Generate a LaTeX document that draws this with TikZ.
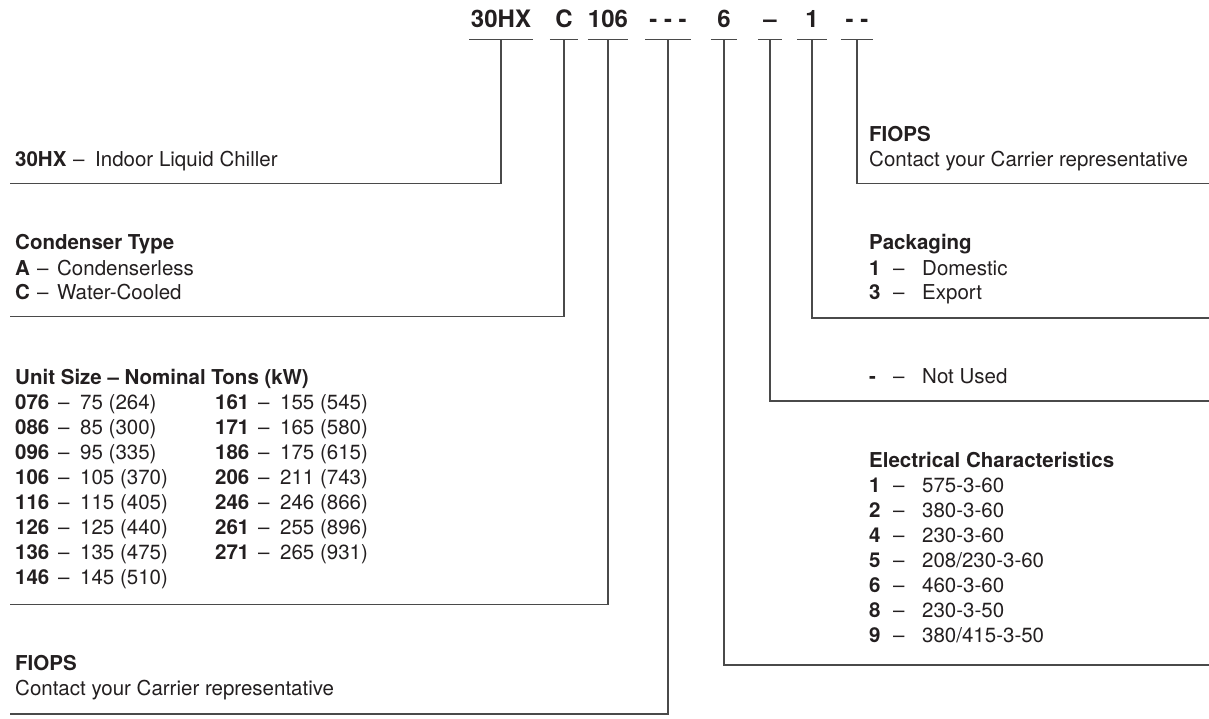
\documentclass[tikz,border=0pt]{standalone}
\usepackage{fontspec}
\setmainfont{TeX Gyre Heros}
\definecolor{ink}{HTML}{231F20}
\definecolor{rulec}{HTML}{4A4A4A}
\newcommand\blk[1]{\begin{tabular}[t]{@{}l@{}}#1\end{tabular}}
\newcommand\rowA[2]{\makebox[22pt][l]{\bfseries #1}\makebox[20pt][l]{--}#2}
\newcommand\rowR[2]{\makebox[24pt][l]{\bfseries #1}\makebox[29pt][l]{--}#2}
\newcommand\rowU[2]{\makebox[43pt][l]{\bfseries #1}\makebox[22pt][l]{--}#2}
\newcommand\rowUU[4]{\makebox[200pt][l]{\rowU{#1}{#2}}\rowU{#3}{#4}}
\begin{document}
\begin{tikzpicture}[x=1pt,y=-1pt,
  code/.style={font=\fontsize{24}{28}\selectfont\bfseries, text=ink, anchor=base, inner sep=0pt},
  lab/.style={font=\fontsize{20.5}{25}\selectfont, text=ink, anchor=base west, inner sep=0pt},
  wire/.style={draw=rulec, line width=1.3pt}]
\useasboundingbox (0,0) rectangle (1209,719);

% code letters
\node[code, minimum width=63pt] (c1) at (501,28) {30HX};
\node[code, minimum width=28pt] (c2) at (564,28) {C};
\node[code, minimum width=32pt] (c3) at (608,28) {106};
\node[code, minimum width=45pt] (c4) at (668,28) {- - -};
\node[code, minimum width=26pt] (c5) at (724,28) {6};
\node[code, minimum width=24pt] (c6) at (770,28) {--};
\node[code, minimum width=29pt] (c7) at (812,28) {1};
\node[code, minimum width=32pt] (c8) at (857,28) {- -};
\foreach \i in {1,...,8}{
  \draw[wire] ([yshift=-11.5pt]c\i.base west) -- ([yshift=-11.5pt]c\i.base east);
  \coordinate (t\i) at ([yshift=-11.5pt]c\i.base);
}

% line ends
\coordinate (e1) at (10,183.5);
\coordinate (e2) at (10,316.5);
\coordinate (e3) at (10,604.5);
\coordinate (e4) at (10,714);
\coordinate (e5) at (1209,665);
\coordinate (e6) at (1209,401);
\coordinate (e7) at (1209,318);
\coordinate (e8) at (1209,183.5);
\foreach \i in {1,...,8}{ \draw[wire] (t\i) |- (e\i); }

% left labels
\node[lab] (l1) at (15,167) {\makebox[58pt][l]{\bfseries 30HX}\makebox[22pt][l]{--}Indoor Liquid Chiller};
\node[lab] (l2) at (15,250) {\blk{\textbf{Condenser Type}\\ \rowA{A}{Condenserless}\\ \rowA{C}{Water-Cooled}}};
\node[lab] (l3) at (15,384) {\blk{\textbf{Unit Size -- Nominal Tons (kW)}\\
  \rowUU{076}{75 (264)}{161}{155 (545)}\\
  \rowUU{086}{85 (300)}{171}{165 (580)}\\
  \rowUU{096}{95 (335)}{186}{175 (615)}\\
  \rowUU{106}{105 (370)}{206}{211 (743)}\\
  \rowUU{116}{115 (405)}{246}{246 (866)}\\
  \rowUU{126}{125 (440)}{261}{255 (896)}\\
  \rowUU{136}{135 (475)}{271}{265 (931)}\\
  \rowU{146}{145 (510)}}};
\node[lab] (l4) at (15,670) {\blk{\textbf{FIOPS}\\ Contact your Carrier representative}};

% right labels
\node[lab] (r1) at (869,142) {\blk{\textbf{FIOPS}\\ Contact your Carrier representative}};
\node[lab] (r2) at (869,250) {\blk{\textbf{Packaging}\\ \rowR{1}{Domestic}\\ \rowR{3}{Export}}};
\node[lab] (r3) at (869,383) {\rowR{-}{Not Used}};
\node[lab] (r4) at (869,467) {\blk{\textbf{Electrical Characteristics}\\
  \rowR{1}{575-3-60}\\ \rowR{2}{380-3-60}\\ \rowR{4}{230-3-60}\\ \rowR{5}{208/230-3-60}\\
  \rowR{6}{460-3-60}\\ \rowR{8}{230-3-50}\\ \rowR{9}{380/415-3-50}}};
\end{tikzpicture}
\end{document}
